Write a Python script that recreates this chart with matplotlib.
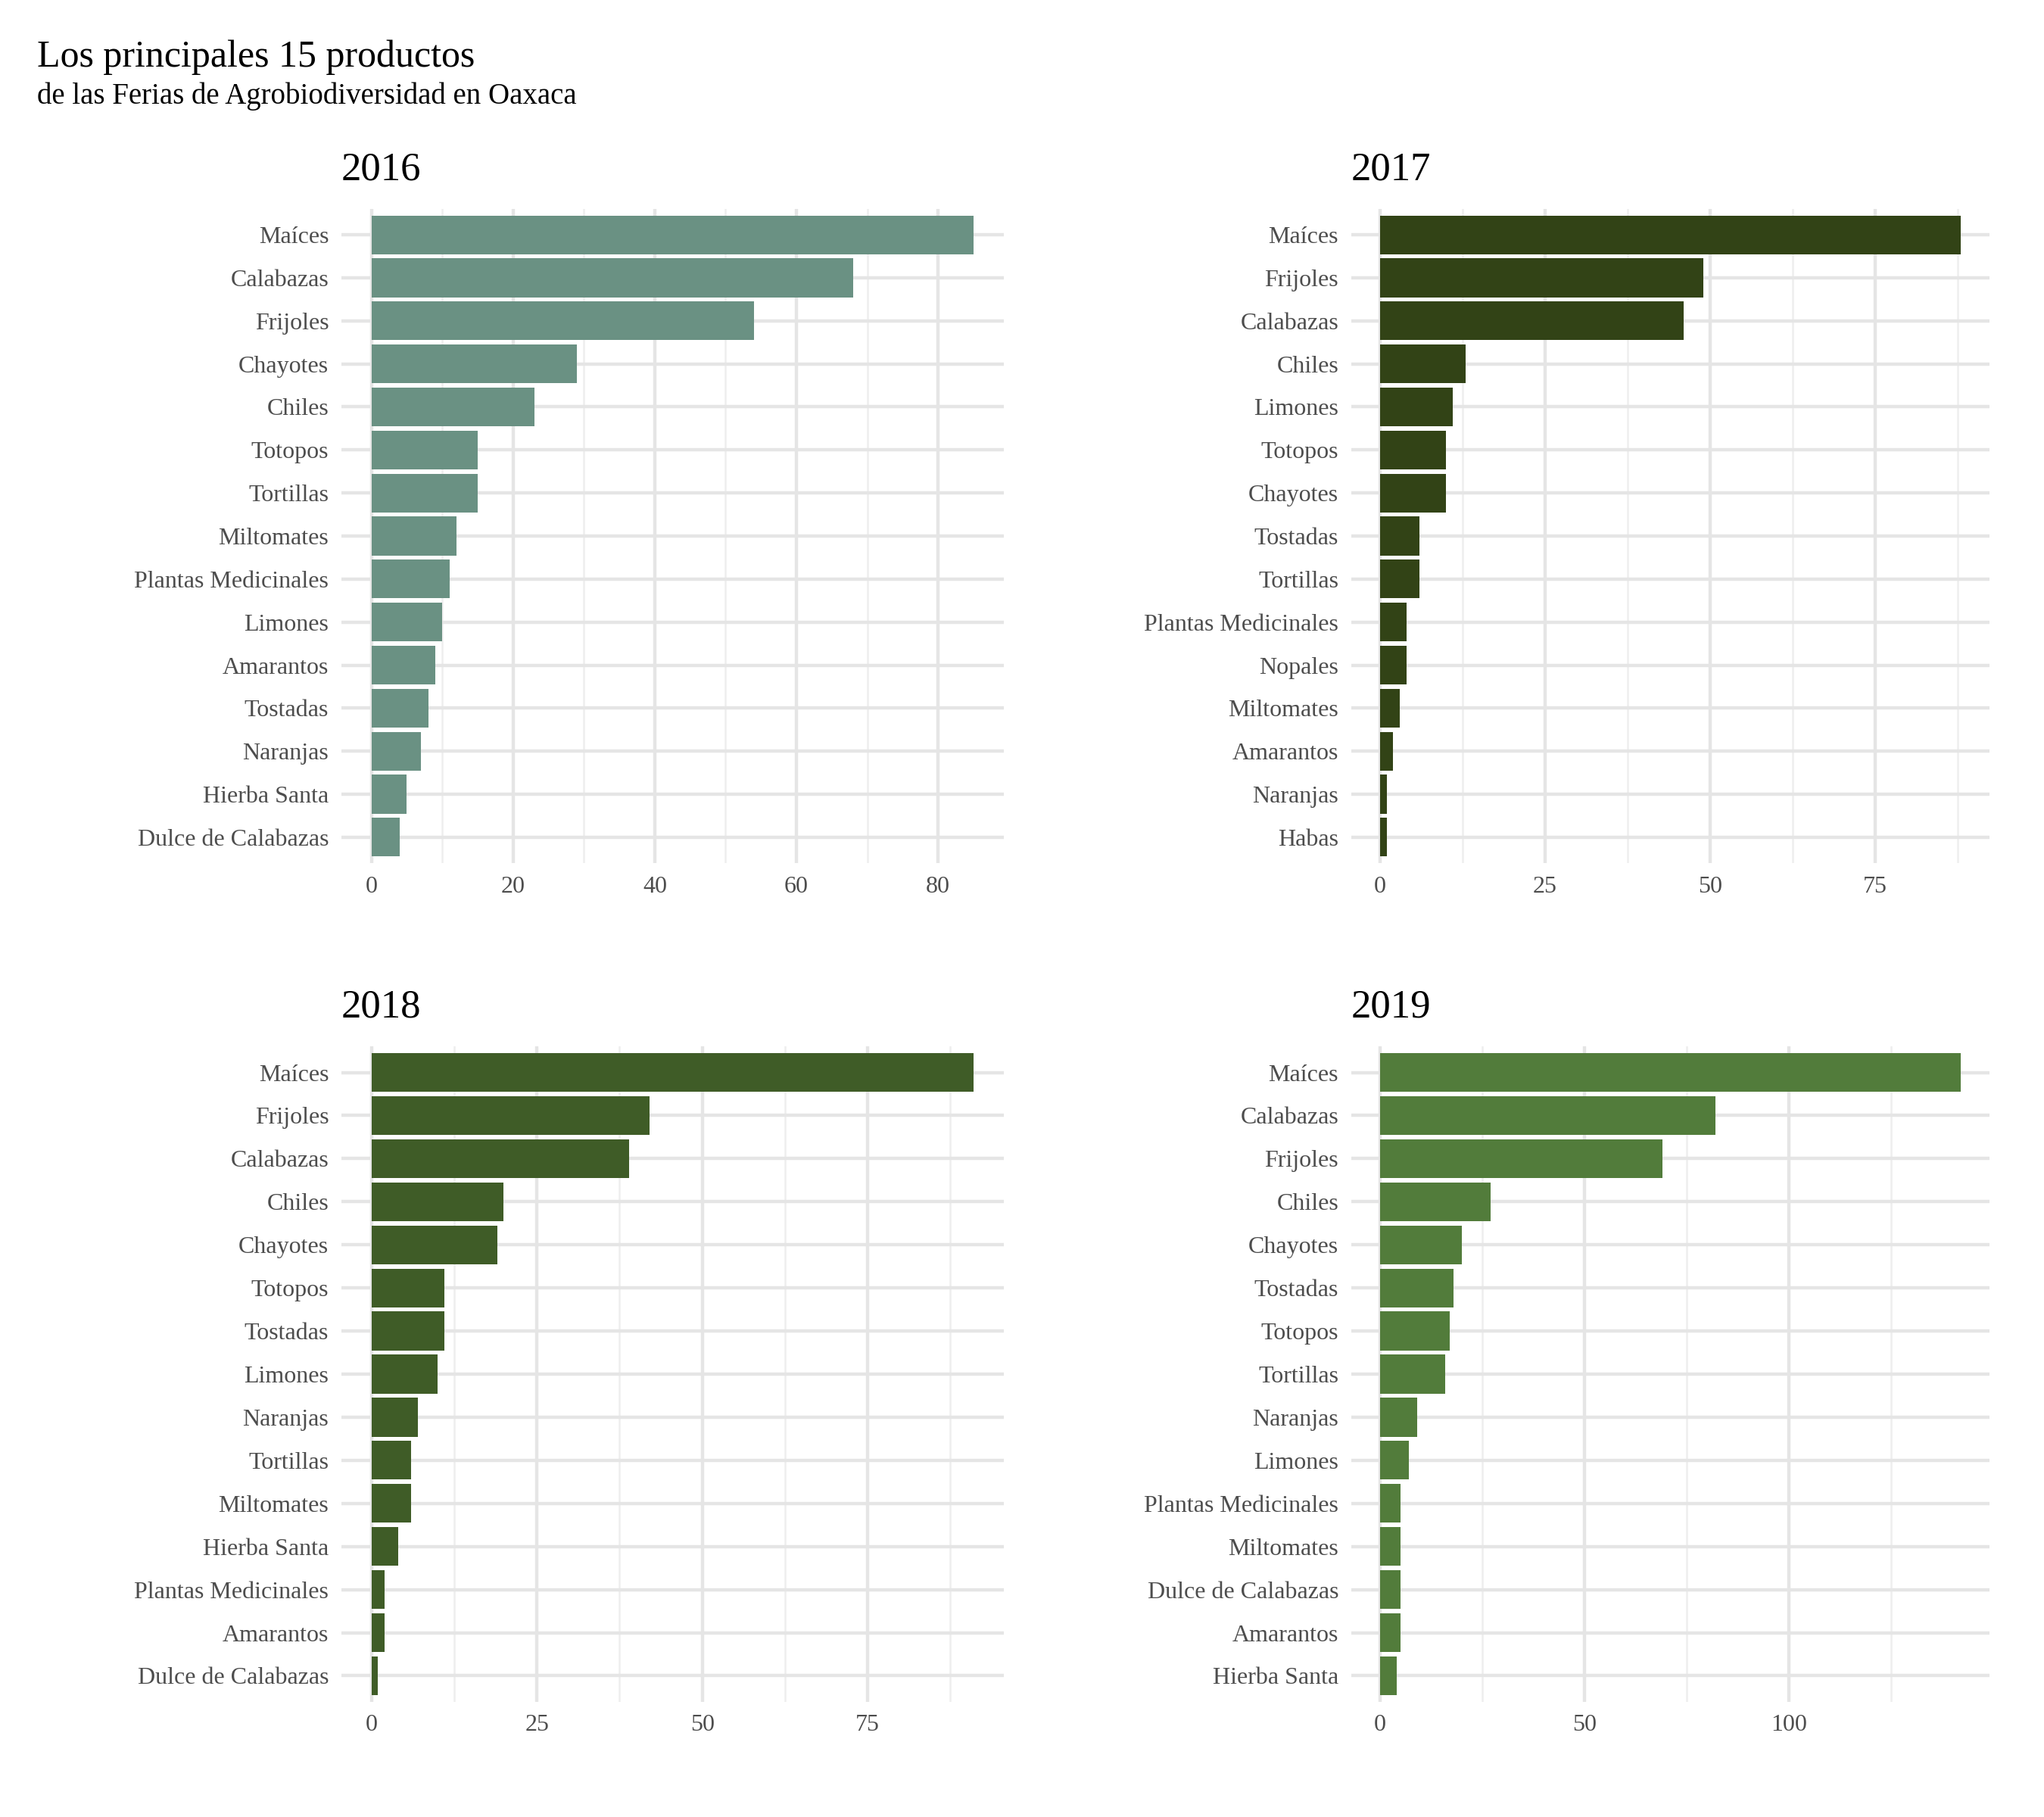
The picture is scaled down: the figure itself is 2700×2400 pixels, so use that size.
import matplotlib
matplotlib.use("Agg")
import matplotlib.pyplot as plt
from matplotlib.ticker import MultipleLocator

plt.rcParams['font.family'] = ['Liberation Serif', 'DejaVu Serif']

years = ["2016", "2017", "2018", "2019"]
cats_2016 = ["Maíces","Calabazas","Frijoles","Chayotes","Chiles","Totopos","Tortillas","Miltomates",
             "Plantas Medicinales","Limones","Amarantos","Tostadas","Naranjas","Hierba Santa","Dulce de Calabazas"]
vals_2016 = [85,68,54,29,23,15,15,12,11,10,9,8,7,5,4]
cats_2017 = ["Maíces","Frijoles","Calabazas","Chiles","Limones","Totopos","Chayotes","Tostadas","Tortillas",
             "Plantas Medicinales","Nopales","Miltomates","Amarantos","Naranjas","Habas"]
vals_2017 = [88,49,46,13,11,10,10,6,6,4,4,3,2,1,1]
cats_2018 = ["Maíces","Frijoles","Calabazas","Chiles","Chayotes","Totopos","Tostadas","Limones","Naranjas",
             "Tortillas","Miltomates","Hierba Santa","Plantas Medicinales","Amarantos","Dulce de Calabazas"]
vals_2018 = [91,42,39,20,19,11,11,10,7,6,6,4,2,2,1]
cats_2019 = ["Maíces","Calabazas","Frijoles","Chiles","Chayotes","Tostadas","Totopos","Tortillas","Naranjas",
             "Limones","Plantas Medicinales","Miltomates","Dulce de Calabazas","Amarantos","Hierba Santa"]
vals_2019 = [142,82,69,27,20,18,17,16,9,7,5,5,5,5,4]

colors = ["#6a9183", "#324316", "#3f5c27", "#527c3b"]
major = [20, 25, 25, 50]
data = [(cats_2016, vals_2016), (cats_2017, vals_2017), (cats_2018, vals_2018), (cats_2019, vals_2019)]
rects = [(0.167, 0.525, 0.324, 0.360), (0.661, 0.525, 0.3125, 0.360),
         (0.167, 0.0635, 0.324, 0.3605), (0.661, 0.0635, 0.3125, 0.3605)]

fig = plt.figure(figsize=(13.5, 12), dpi=200)
for (cats, vals), col, mj, r, yr in zip(data, colors, major, rects, years):
    ax = fig.add_axes(r)
    n = len(cats)
    pos = list(range(n, 0, -1))
    ax.barh(pos, vals, height=0.9, color=col, zorder=3)
    m = max(vals)
    ax.set_xlim(-0.05 * m, 1.05 * m)
    ax.set_ylim(0.4, n + 0.6)
    ax.set_yticks(pos)
    ax.set_yticklabels(cats)
    ax.xaxis.set_major_locator(MultipleLocator(mj))
    ax.xaxis.set_minor_locator(MultipleLocator(mj / 2))
    ax.grid(True, which='major', color='#e5e5e5', linewidth=1.6, zorder=0)
    ax.grid(True, which='minor', axis='x', color='#eeeeee', linewidth=0.9, zorder=0)
    for s in ax.spines.values():
        s.set_visible(False)
    ax.tick_params(which='both', length=0, labelsize=11.5, colors='#4d4d4d', pad=6)
    for lbl in ax.get_yticklabels() + ax.get_xticklabels():
        lbl.set_color('#4d4d4d')
    ax.set_title(yr, loc='left', fontsize=19, pad=14)

fig.text(0.018, 0.978, "Los principales 15 productos", fontsize=18, va='top')
fig.text(0.018, 0.955, "de las Ferias de Agrobiodiversidad en Oaxaca", fontsize=14, va='top')
fig.savefig("out.png", dpi=200, facecolor='white')
